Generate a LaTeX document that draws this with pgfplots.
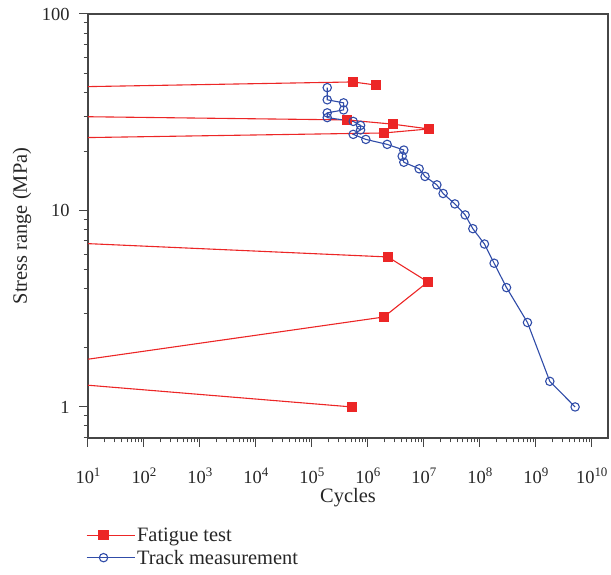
\documentclass[border=0pt]{standalone}
\usepackage{fontspec}
\setmainfont{Liberation Serif}
\usepackage{pgfplots}
\pgfplotsset{compat=1.18}
\definecolor{fred}{RGB}{236,38,38}
\definecolor{tblue}{RGB}{48,76,168}
\definecolor{axgray}{RGB}{70,70,70}
\newcommand{\pw}[1]{10\raisebox{0.42em}{\fontsize{13}{13}\selectfont #1}}
\begin{document}
\begin{tikzpicture}
\begin{axis}[
  xmode=log, ymode=log,
  scale only axis, width=520bp, height=424bp,
  xmin=10, xmax=1.95e10, ymin=0.695, ymax=100,
  xtick={1e1,1e2,1e3,1e4,1e5,1e6,1e7,1e8,1e9,1e10},
  xticklabels={\pw{1},\pw{2},\pw{3},\pw{4},\pw{5},\pw{6},\pw{7},\pw{8},\pw{9},\pw{10}},
  minor xtick={20,30,40,50,60,70,80,90,
    200,300,400,500,600,700,800,900,
    2e3,3e3,4e3,5e3,6e3,7e3,8e3,9e3,
    2e4,3e4,4e4,5e4,6e4,7e4,8e4,9e4,
    2e5,3e5,4e5,5e5,6e5,7e5,8e5,9e5,
    2e6,3e6,4e6,5e6,6e6,7e6,8e6,9e6,
    2e7,3e7,4e7,5e7,6e7,7e7,8e7,9e7,
    2e8,3e8,4e8,5e8,6e8,7e8,8e8,9e8,
    2e9,3e9,4e9,5e9,6e9,7e9,8e9,9e9},
  ytick={1,10,100}, yticklabels={1,10,100},
  minor ytick={0.7,0.8,0.9,2,3,4,5,6,7,8,9,20,30,40,50,60,70,80,90},
  tick pos=left, tick align=outside,
  major tick length=9bp, minor tick length=4.5bp,
  every tick/.style={axgray, line width=1bp},
  axis line style={axgray, line width=1.2bp},
  tick label style={font=\fontsize{18.5}{18.5}\selectfont, text=black!85},
  xticklabel style={anchor=base, yshift=-37bp},
  yticklabel style={anchor=east, xshift=-6bp},
  xlabel={Cycles}, ylabel={Stress range (MPa)},
  every axis x label/.style={at={(axis description cs:0.5,0)}, anchor=center, yshift=-60bp,
    font=\fontsize{20.5}{20.5}\selectfont, text=black!85},
  every axis y label/.style={at={(axis description cs:0,0.5)}, xshift=-66bp, anchor=center, rotate=90,
    font=\fontsize{20.5}{20.5}\selectfont, text=black!85},
  legend style={at={(axis description cs:-0.01,-0.202)}, anchor=north west, draw=none, fill=none,
    font=\fontsize{20.5}{20.5}\selectfont, text=black!85, row sep=3bp, cells={anchor=west}},
  legend image code/.code={\draw[mark repeat=2,mark phase=2,#1] plot coordinates {(0bp,0bp) (17bp,0bp) (34bp,0bp)};
    \path (34bp,0bp) -- (48bp,0bp);},
]
\addlegendimage{fred, line width=1.1bp, mark=square*, mark size=4.5bp, mark options={solid, fill=fred}}
\addlegendentry{Fatigue test}
\addlegendimage{tblue, line width=1.1bp, mark=o, mark size=4.2bp, mark options={solid, fill=white, line width=1.1bp}}
\addlegendentry{Track measurement}

% Fatigue test
\addplot[forget plot, fred, line width=1.1bp, mark=square*, mark size=4.5bp, mark options={fill=fred}, mark indices={2,3}]
  coordinates {(10,42.7) (5.4e5,45.1) (1.39e6,43.5)};
\addplot[forget plot, fred, line width=1.1bp, mark=square*, mark size=4.5bp, mark options={fill=fred}, mark indices={2,3,4,5}]
  coordinates {(10,30.0) (4.2e5,28.9) (2.8e6,27.5) (1.23e7,26.0) (1.93e6,24.8) (10,23.5)};
\addplot[forget plot, fred, line width=1.1bp, mark=square*, mark size=4.5bp, mark options={fill=fred}, mark indices={2,3,4}]
  coordinates {(10,6.78) (2.28e6,5.8) (1.18e7,4.33) (1.93e6,2.87) (10,1.75)};
\addplot[forget plot, fred, line width=1.1bp, mark=square*, mark size=4.5bp, mark options={fill=fred}, mark indices={2}]
  coordinates {(10,1.29) (5.2e5,1.0)};

% Track measurement
\addplot[forget plot, tblue, line width=1.1bp, mark=o, mark size=4.2bp, mark options={fill=white, line width=1.1bp}]
  coordinates {
  (1.88e5,42.2) (1.88e5,36.6) (3.68e5,35.3) (3.68e5,32.5) (1.88e5,31.4) (1.88e5,29.7)
  (5.47e5,28.4) (7.41e5,27.1) (7.41e5,25.7) (5.47e5,24.4) (9.2e5,23.0) (2.21e6,21.7)
  (4.39e6,20.3) (4.1e6,18.9) (4.39e6,17.6) (8.24e6,16.3) (1.05e7,14.9) (1.71e7,13.5)
  (2.21e7,12.2) (3.58e7,10.8) (5.47e7,9.49) (7.5e7,8.08) (1.21e8,6.75) (1.8e8,5.39)
  (3.0e8,4.05) (7.1e8,2.69) (1.78e9,1.35) (5.04e9,1.0)};
\end{axis}
\pgfresetboundingbox
\path[use as bounding box] ([xshift=-88bp,yshift=-137bp]current axis.south west) rectangle ([xshift=3bp,yshift=14bp]current axis.north east);
\end{tikzpicture}
\end{document}
